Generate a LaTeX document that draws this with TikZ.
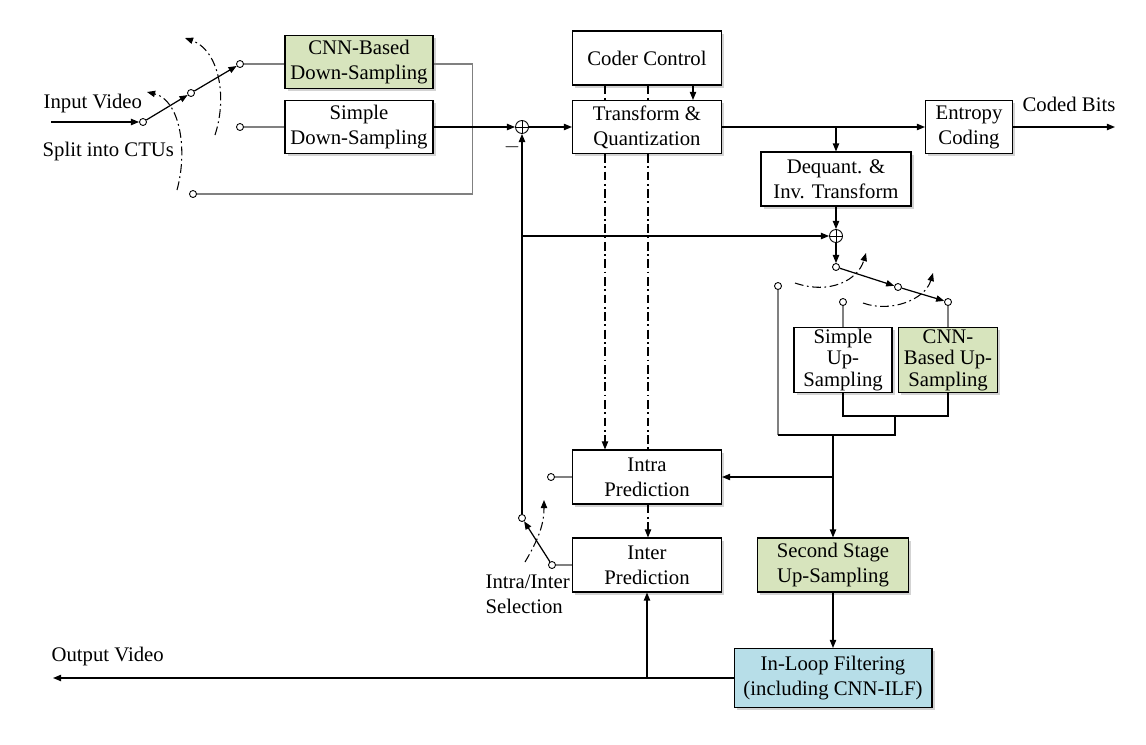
\documentclass[tikz,border=0pt]{standalone}
\usepackage{fontspec}
\setmainfont{Liberation Serif}
\usetikzlibrary{arrows.meta,shadows}
\definecolor{cnngreen}{HTML}{D7E4BD}
\definecolor{ilfblue}{HTML}{B7DEE8}
\begin{document}
\begin{tikzpicture}[x=0.02cm,y=-0.02cm,
  font=\fontsize{11.8}{14.2}\selectfont,
  >={Triangle[length=4.6pt,width=3.6pt]},
  line width=0.7pt,
  blk/.style={draw,line width=0.6pt,fill=white,align=center,inner sep=1pt,
    drop shadow={shadow xshift=1.5pt,shadow yshift=-1.5pt,opacity=0.35}},
  cnn/.style={blk,fill=cnngreen},
  tight/.style={font=\fontsize{11.8}{12.2}\selectfont},
  port/.style={circle,draw,line width=0.5pt,fill=white,inner sep=0pt,minimum size=0.14cm},
  adder/.style={circle,draw,line width=0.5pt,fill=white,inner sep=0pt,minimum size=0.26cm,
    path picture={\draw[line width=0.5pt] (path picture bounding box.north) -- (path picture bounding box.south)
      (path picture bounding box.west) -- (path picture bounding box.east);}},
  sw/.style={draw=black!50,line width=0.6pt},
  ctrl/.style={dash pattern=on 5pt off 2pt on 1pt off 2pt,line width=0.6pt},
  lbl/.style={inner sep=0pt}]
\useasboundingbox (0,0) rectangle (1146,744);
% Blocks
\node[cnn,minimum width=2.96cm,minimum height=1.06cm] (cnnd) at (359,62) {CNN-Based\\Down-Sampling};
\node[blk,minimum width=2.96cm,minimum height=1.06cm] (simd) at (359,127) {Simple\\Down-Sampling};
\node[blk,minimum width=2.98cm,minimum height=1.08cm] (cc) at (647,58) {Coder Control};
\node[blk,minimum width=2.98cm,minimum height=1.06cm] (tq) at (647,127) {Transform \&\\Quantization};
\node[blk,minimum width=1.74cm,minimum height=1.06cm] (ent) at (969,127) {Entropy\\Coding};
\node[blk,minimum width=3.0cm,minimum height=1.08cm] (dq) at (836,179) {Dequant. \&\\Inv. Transform};
\node[blk,tight,minimum width=1.96cm,minimum height=1.28cm] (simu) at (843,360) {Simple\\Up-\\Sampling};
\node[cnn,tight,minimum width=1.98cm,minimum height=1.28cm] (cnnu) at (948,360) {CNN-\\Based Up-\\Sampling};
\node[blk,minimum width=2.98cm,minimum height=1.08cm] (intra) at (647,477) {Intra\\Prediction};
\node[blk,minimum width=2.98cm,minimum height=1.08cm] (inter) at (647,565) {Inter\\Prediction};
\node[cnn,minimum width=3.02cm,minimum height=1.08cm] (ssu) at (833,565) {Second Stage\\Up-Sampling};
\node[blk,fill=ilfblue,minimum width=3.96cm,minimum height=1.18cm] (ilf) at (833,678) {In-Loop Filtering\\(including CNN-ILF)};
\node[adder] (add1) at (522,127) {};
\node[adder] (add2) at (836,236) {};
% Switch ports
\node[port] (p0) at (143,122) {};
\node[port] (p1) at (191,93) {};
\node[port] (p2) at (240,64) {};
\node[port] (p3) at (240,127) {};
\node[port] (p4) at (193,194) {};
\node[port] (q0) at (836,267) {};
\node[port] (q1) at (898,287) {};
\node[port] (q2) at (948,302) {};
\node[port] (q3) at (843,302) {};
\node[port] (q4) at (778,286) {};
\node[port] (r0) at (552,565) {};
\node[port] (r1) at (551,477) {};
\node[port] (r2) at (522,518) {};
\coordinate (in) at (51,122);
\coordinate (bits) at (1115,127);
\coordinate (out) at (53,678);
\coordinate (d1) at (605,0);
\coordinate (d2) at (648,0);
\coordinate (ctl) at (693,0);
\coordinate (bm) at (895,416);
\coordinate (sp) at (833,435);
% Texts
\node[lbl,anchor=west] (invid) at (43,104) {Input Video};
\node[lbl,anchor=west] (ctu) at (42,152) {Split into CTUs};
\node[lbl,anchor=west] (coded) at (1022,104) {Coded Bits};
\node[lbl,anchor=west] (outvid) at (51,657) {Output Video};
\node[lbl,anchor=north west,align=left] (sel) at (485,574) {Intra/Inter\\Selection};
\node[lbl] (minus) at (512,147) {$-$};
% Input switch
\draw[->] (in) -- (p0);
\draw[->] (p0) -- (p1);
\draw[->] (p1) -- (p2);
\draw[sw] (p2) -- (cnnd.west |- p2);
\draw[sw] (p3) -- (simd.west);
\draw[sw] (cnnd.east |- p2) -- ++(39,0) |- (p4);
\draw[ctrl,->] (177,190) .. controls (188,150) and (180,100) .. (147,92);
\draw[ctrl,->] (215,135) .. controls (228,95) and (218,50) .. (185,38);
% Main path
\draw[->] (simd.east) -- (add1);
\draw[->] (add1) -- (tq);
\draw[->] (cc.south -| ctl) -- (tq.north -| ctl);
\draw[->] (tq) -- (ent);
\draw[->] (tq.east -| dq) -- (dq);
\draw[->] (ent) -- (bits);
\draw[->] (dq) -- (add2);
\draw[->] (add2) -- (q0);
\draw[->] (q0) -- (q1);
\draw[->] (q1) -- (q2);
\draw[ctrl,->] (795,283) .. controls (830,295) and (858,280) .. (866,253);
\draw[ctrl,->] (863,303) .. controls (890,313) and (925,300) .. (933,273);
% Up-sampling
\draw[sw] (q2) -- (cnnu);
\draw[sw] (q3) -- (simu);
\draw[sw] (q4) -- (q4 |- sp);
\draw (q4 |- sp) -- (bm |- sp) -- (bm);
\draw (simu.south) |- (bm) -| (cnnu.south);
\draw[->] (sp) -- (ssu);
\draw[->] (sp |- intra) -- (intra);
\draw[->] (ssu) -- (ilf);
\draw[->] (ilf.west) -- (out);
\draw[->] (inter |- ilf) -- (inter);
% Prediction
\draw[ctrl] (cc.south -| d1) -- (tq.north -| d1);
\draw[ctrl,->] (tq.south -| d1) -- (intra.north -| d1);
\draw[ctrl] (cc.south -| d2) -- (tq.north -| d2);
\draw[ctrl] (tq.south -| d2) -- (intra.north -| d2);
\draw[ctrl,->] (intra.south -| d2) -- (inter.north -| d2);
\draw[sw] (r1) -- (intra);
\draw[sw] (r0) -- (inter);
\draw[->] (r0) -- (r2);
\draw[->] (r2) -- (add1);
\draw[->] (add1 |- add2) -- (add2);
\draw[ctrl,->] (525,562) .. controls (538,540) and (544,525) .. (544,500);
\end{tikzpicture}
\end{document}
